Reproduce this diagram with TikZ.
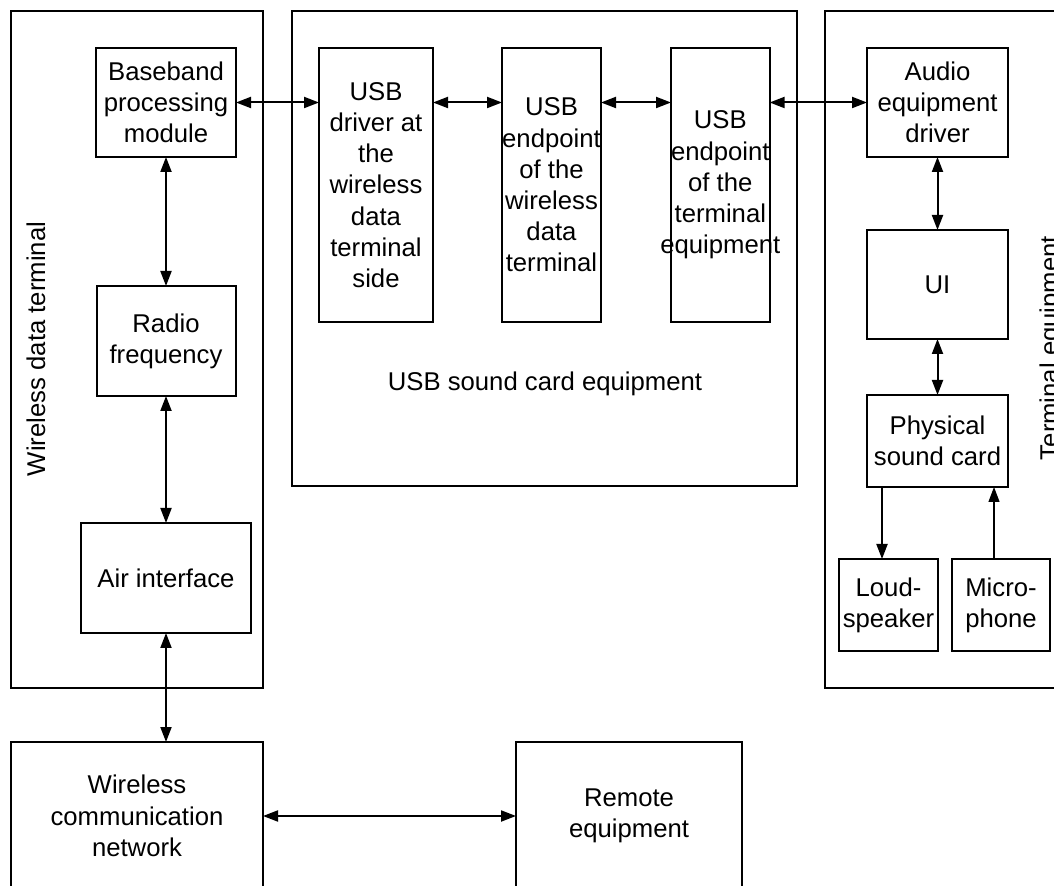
\documentclass[tikz,border=0pt]{standalone}
\usepackage{fontspec}
\setmainfont{Liberation Sans}
\usetikzlibrary{positioning}
\usetikzlibrary{arrows.meta}
\newcommand{\dgfont}{\fontsize{12.85}{15.6}\selectfont}

\begin{document}
\begin{tikzpicture}[x=0.5pt,y=-0.5pt,node distance=0,on grid=false,
	blk/.style={draw,line width=1pt,inner sep=0,outer sep=0,align=center,font=\dgfont},
	grp/.style={draw,line width=1pt,inner sep=0,outer sep=0},
	darr/.style={{Triangle[length=7.5pt,width=5.5pt]}-{Triangle[length=7.5pt,width=5.5pt]},line width=1pt},
	sarr/.style={-{Triangle[length=7.5pt,width=5.5pt]},line width=1pt}]

	\useasboundingbox (0,0) rectangle (1054,886);

	% Frames
	\node [grp,minimum width=126pt,minimum height=338.5pt] (wdt) at (137,349.5) {};
	\node [grp,minimum width=252.5pt,minimum height=237.5pt] (usc) at (544.5,248.5) {};
	\node [grp,minimum width=127.5pt,minimum height=338.5pt] (teq) at (952.5,349.5) {};
	\node [font=\dgfont,rotate=90,anchor=base] (wdtlbl) at (45,349) {Wireless data terminal};
	\node [font=\dgfont,anchor=base] (usclbl) at (545,391) {USB sound card equipment};
	\node [font=\dgfont,rotate=90,anchor=base] (teqlbl) at (1058,348) {Terminal equipment};

	% Place nodes
	\node [blk,minimum width=70pt,minimum height=54.5pt] (bb) at (166,102.5) {Baseband\\processing\\module};
	\node [blk,minimum width=69.5pt,minimum height=55pt,below=64.5pt of bb] (rf) {Radio\\frequency};
	\node [blk,minimum width=85pt,minimum height=55pt,below=63.5pt of rf] (air) {Air interface};

	\node [blk,minimum width=57pt,minimum height=137pt] (usb1) at (376,185) {USB\\driver at\\the\\wireless\\data\\terminal\\side};
	\node [blk,minimum width=49.5pt,minimum height=137pt,right=34.5pt of usb1] (usb2) {USB\\endpoint\\of the\\wireless\\data\\terminal};
	\node [blk,minimum width=49pt,minimum height=137pt,right=35pt of usb2] (usb3) {USB\\endpoint\\of the\\terminal\\\makebox[0pt]{equipment}};

	\node [blk,minimum width=70.5pt,minimum height=54.5pt] (aud) at (937.5,102.5) {Audio\\equipment\\driver};
	\node [blk,minimum width=70.5pt,minimum height=54.5pt,below=36.5pt of aud] (ui) {UI};
	\node [blk,minimum width=70.5pt,minimum height=46pt,below=28pt of ui] (psc) {Physical\\sound card};
	\node [blk,minimum width=49.5pt,minimum height=46pt] (spk) at (888.5,605) {Loud-\\speaker};
	\node [blk,minimum width=49pt,minimum height=46pt,right=7pt of spk] (mic) {Micro-\\phone};

	\node [blk,minimum width=126pt,minimum height=74pt] (wcn) at (137,816) {Wireless\\communication\\network};
	\node [blk,minimum width=113pt,minimum height=74pt] (rem) at (629,816) {Remote\\equipment};

	% Connections
	\draw [darr] (bb.east) -- (bb.east -| usb1.west);
	\draw [darr] (usb1.east |- bb.east) -- (usb2.west |- bb.east);
	\draw [darr] (usb2.east |- bb.east) -- (usb3.west |- bb.east);
	\draw [darr] (usb3.east |- aud.west) -- (aud.west);
	\draw [darr] (bb.south) -- (rf.north);
	\draw [darr] (rf.south) -- (air.north);
	\draw [darr] (air.south) -- (air.south |- wcn.north);
	\draw [darr] (wcn.east) -- (rem.west);
	\draw [darr] (aud.south) -- (ui.north);
	\draw [darr] (ui.south) -- (psc.north);
	\coordinate (spkin) at ([xshift=-3.25pt]spk.north);
	\coordinate (micout) at ([xshift=-3.5pt]mic.north);
	\draw [sarr] (spkin |- psc.south) -- (spkin);
	\draw [sarr,line width=0.6pt] (micout) -- (micout |- psc.south);
\end{tikzpicture}
\end{document}
